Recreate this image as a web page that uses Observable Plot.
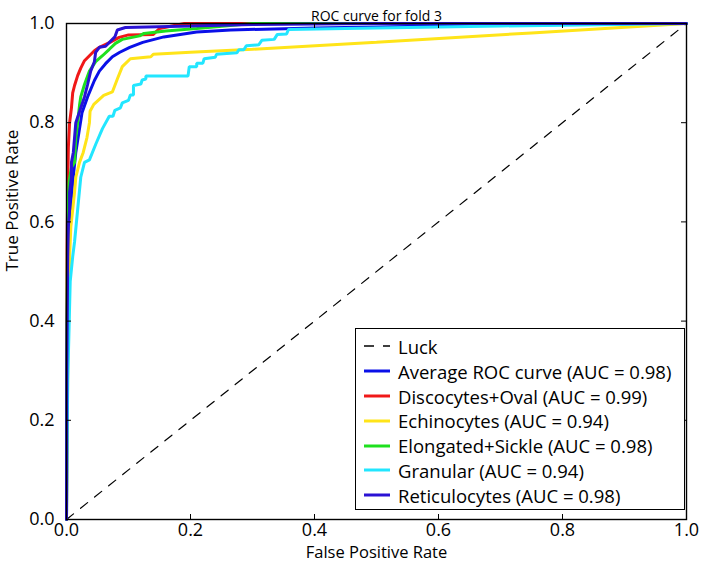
<!DOCTYPE html>
<html>
<head>
<meta charset="utf-8">
<script src="https://cdn.jsdelivr.net/npm/d3@7"></script>
<script src="https://cdn.jsdelivr.net/npm/@observablehq/plot@0.6"></script>
<style>
  html, body { margin: 0; padding: 0; background: white; }
  #wrap { position: relative; width: 706px; height: 568px; font-family: "Open Sans", sans-serif; }
  #legend { position: absolute; left: 355px; top: 328px; width: 330px; height: 182px; border: 1.2px solid #000; background: white; box-sizing: border-box; padding: 5px 0 0 8px; }
  .row { display: flex; align-items: center; height: 24.8px; font-size: 18.5px; white-space: nowrap; color: #000; }
  .row svg { margin-right: 8px; }
</style>
</head>
<body>
<div id="wrap"></div>
<script>
const title = "ROC curve for fold 3";
const xLabel = "False Positive Rate";
const yLabel = "True Positive Rate";
const xTicks = [0, 0.2, 0.4, 0.6, 0.8, 1.0];
const yTicks = [0, 0.2, 0.4, 0.6, 0.8, 1.0];

const seriesNames = ["Luck", "Average ROC curve (AUC = 0.98)", "Discocytes+Oval (AUC = 0.99)", "Echinocytes (AUC = 0.94)", "Elongated+Sickle (AUC = 0.98)", "Granular (AUC = 0.94)", "Reticulocytes (AUC = 0.98)"];
const seriesColors = ["#000000", "#0a10e8", "#f01818", "#ffe419", "#1ee01e", "#22e6ff", "#2a12d4"];

const luckX = [0, 1];
const luckY = [0, 1];

const avgX = [0, 0.001, 0.003, 0.006, 0.01, 0.015, 0.02, 0.025, 0.034, 0.045, 0.053, 0.063, 0.074, 0.086, 0.102, 0.123, 0.157, 0.21, 0.265, 0.4, 0.6, 0.8, 1];
const avgY = [0, 0.4, 0.55, 0.62, 0.68, 0.74, 0.78, 0.82, 0.852, 0.885, 0.904, 0.919, 0.933, 0.942, 0.952, 0.962, 0.973, 0.983, 0.987, 0.991, 0.995, 0.998, 1];

const discoX = [0, 0.001, 0.002, 0.003, 0.005, 0.008, 0.01, 0.013, 0.018, 0.023, 0.029, 0.037, 0.045, 0.053, 0.07, 0.085, 0.1, 0.14, 0.15, 0.19, 1];
const discoY = [0, 0.55, 0.68, 0.75, 0.8, 0.83, 0.86, 0.875, 0.895, 0.91, 0.925, 0.935, 0.945, 0.952, 0.962, 0.972, 0.977, 0.978, 0.99, 1, 1];

const echinoX = [0, 0.002, 0.004, 0.005, 0.007, 0.01, 0.013, 0.015, 0.021, 0.027, 0.033, 0.037, 0.038, 0.044, 0.06, 0.074, 0.082, 0.09, 0.103, 0.136, 0.14, 0.2, 0.3, 0.5, 0.75, 1];
const echinoY = [0, 0.3, 0.45, 0.53, 0.59, 0.625, 0.66, 0.69, 0.72, 0.74, 0.77, 0.8, 0.823, 0.837, 0.855, 0.862, 0.888, 0.913, 0.929, 0.933, 0.938, 0.942, 0.948, 0.962, 0.981, 1];

const elongX = [0, 0.001, 0.002, 0.004, 0.008, 0.013, 0.015, 0.018, 0.021, 0.023, 0.029, 0.037, 0.047, 0.058, 0.069, 0.079, 0.09, 0.118, 0.125, 0.16, 0.21, 0.3, 1];
const elongY = [0, 0.45, 0.62, 0.68, 0.71, 0.72, 0.77, 0.8, 0.835, 0.852, 0.877, 0.904, 0.923, 0.935, 0.948, 0.96, 0.968, 0.975, 0.98, 0.985, 0.99, 1, 1];

const granX = [0, 0.001, 0.002, 0.006, 0.01, 0.013, 0.018, 0.023, 0.029, 0.037, 0.047, 0.058, 0.069, 0.075, 0.078, 0.087, 0.09, 0.1, 0.103, 0.108, 0.108, 0.12, 0.122, 0.128, 0.128, 0.196, 0.198, 0.21, 0.21, 0.22, 0.222, 0.24, 0.242, 0.275, 0.278, 0.286, 0.29, 0.31, 0.315, 0.335, 0.34, 0.355, 0.358, 0.45, 0.7, 1];
const granY = [0, 0.15, 0.28, 0.48, 0.53, 0.56, 0.625, 0.69, 0.72, 0.725, 0.756, 0.788, 0.813, 0.813, 0.825, 0.83, 0.84, 0.845, 0.856, 0.856, 0.875, 0.878, 0.886, 0.888, 0.894, 0.894, 0.913, 0.913, 0.92, 0.92, 0.929, 0.932, 0.938, 0.941, 0.947, 0.947, 0.955, 0.957, 0.966, 0.968, 0.978, 0.979, 0.988, 0.99, 0.995, 1];

const reticX = [0, 0.0005, 0.002, 0.003, 0.005, 0.005, 0.008, 0.008, 0.011, 0.015, 0.029, 0.034, 0.039, 0.045, 0.047, 0.053, 0.063, 0.078, 0.082, 0.095, 0.2, 0.3, 0.5, 1];
const reticY = [0, 0.3, 0.53, 0.59, 0.625, 0.66, 0.69, 0.72, 0.74, 0.8, 0.852, 0.877, 0.904, 0.923, 0.942, 0.952, 0.954, 0.973, 0.987, 0.992, 0.995, 0.998, 1, 1];

const allX = [luckX, avgX, discoX, echinoX, elongX, granX, reticX];
const allY = [luckY, avgY, discoY, echinoY, elongY, granY, reticY];

const rows = [];
for (let s = 1; s < seriesNames.length; s++) {
  allX[s].forEach((x, i) => rows.push({series: seriesNames[s], x, y: allY[s][i]}));
}
const luckRows = luckX.map((x, i) => ({x, y: luckY[i]}));

const fmt = d3.format(".1f");
const font = "Open Sans, sans-serif";

const chart = Plot.plot({
  width: 706,
  height: 568,
  marginLeft: 66,
  marginRight: 20,
  marginTop: 23,
  marginBottom: 49,
  style: {fontFamily: font, fontSize: "18px", background: "white", color: "black"},
  x: {domain: [0, 1]},
  y: {domain: [0, 1]},
  color: {domain: seriesNames, range: seriesColors},
  marks: [
    Plot.line(luckRows, {x: "x", y: "y", stroke: "black", strokeWidth: 1.2, strokeDasharray: "9,9"}),
    Plot.line(rows, {x: "x", y: "y", z: "series", stroke: "series", strokeWidth: 3, strokeLinejoin: "miter"}),
    Plot.frame({stroke: "black", strokeWidth: 1.4}),
    Plot.tickX(xTicks, {x: d => d, insetTop: 491, stroke: "black"}),
    Plot.tickX(xTicks, {x: d => d, insetBottom: 491, stroke: "black"}),
    Plot.tickY(yTicks, {y: d => d, insetRight: 615, stroke: "black"}),
    Plot.tickY(yTicks, {y: d => d, insetLeft: 615, stroke: "black"}),
    Plot.axisX({ticks: xTicks, tickFormat: fmt, tickSize: 0, tickPadding: 4, label: null, fontSize: 18}),
    Plot.axisY({ticks: yTicks, tickFormat: fmt, tickSize: 0, tickPadding: 12, label: null, fontSize: 18}),
    Plot.text([xLabel], {frameAnchor: "bottom", dy: 38, fontSize: 16.5}),
    Plot.text([yLabel], {frameAnchor: "left", dx: -54, rotate: -90, fontSize: 17}),
    Plot.text([title], {frameAnchor: "top", dy: -12, fontSize: 14})
  ]
});

const wrap = document.getElementById("wrap");
wrap.appendChild(chart);

const legend = document.createElement("div");
legend.id = "legend";
seriesNames.forEach((name, i) => {
  const row = document.createElement("div");
  row.className = "row";
  const dash = i === 0 ? 'stroke-dasharray="10,9" stroke-width="1.5"' : 'stroke-width="3"';
  row.innerHTML = `<svg width="26" height="10"><line x1="0" y1="5" x2="26" y2="5" stroke="${seriesColors[i]}" ${dash}/></svg><span>${name}</span>`;
  legend.appendChild(row);
});
wrap.appendChild(legend);
</script>
</body>
</html>
